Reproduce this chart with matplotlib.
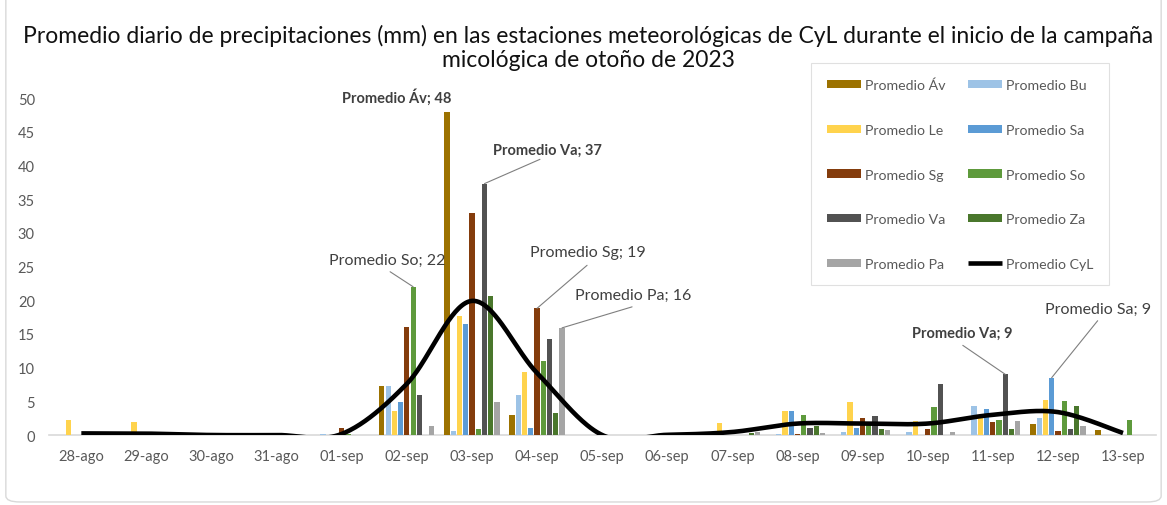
import numpy as np
import matplotlib
matplotlib.use('Agg')
import matplotlib.pyplot as plt
from matplotlib.patches import FancyBboxPatch

plt.rcParams['font.family'] = ['Lato', 'DejaVu Sans']

# categories (days)
days = ['28-ago', '29-ago', '30-ago', '31-ago', '01-sep', '02-sep', '03-sep', '04-sep',
        '05-sep', '06-sep', '07-sep', '08-sep', '09-sep', '10-sep', '11-sep', '12-sep', '13-sep']

# daily average precipitation (mm) per province
prom_av = [0, 0, 0, 0, 0, 7.2, 48.0, 2.9, 0, 0, 0, 0, 0, 0, 0, 1.7, 0.75]
prom_bu = [0, 0, 0, 0, 0.15, 7.2, 0.65, 5.9, 0, 0, 0, 0.2, 0.4, 0.5, 4.35, 2.5, 0]
prom_le = [2.2, 1.9, 0, 0, 0, 3.5, 17.6, 9.3, 0, 0, 1.8, 3.5, 4.85, 2.1, 2.5, 5.2, 0]
prom_sa = [0, 0, 0, 0, 0, 4.9, 16.4, 1.1, 0, 0, 0, 3.6, 1.0, 0, 3.9, 8.5, 0]
prom_sg = [0, 0, 0, 0, 1.1, 16.0, 32.9, 18.8, 0, 0.3, 0, 0.2, 2.5, 0.85, 1.9, 0.65, 0]
prom_so = [0, 0, 0, 0, 0.2, 22.0, 0.9, 11.0, 0, 0, 0, 2.9, 2.0, 4.1, 2.2, 5.0, 2.2]
prom_va = [0, 0, 0, 0, 0, 6.0, 37.3, 14.3, 0, 0, 0, 1.1, 2.8, 7.5, 9.0, 0.9, 0]
prom_za = [0, 0, 0, 0, 0, 0, 20.6, 3.3, 0, 0, 0.3, 1.3, 0.9, 0, 0.9, 4.35, 0]
prom_pa = [0, 0, 0, 0, 0, 1.3, 4.85, 15.9, 0, 0, 0.5, 0.3, 0.8, 0.4, 2.1, 1.4, 0]
# regional average (smoothed line)
prom_cyl = [0.24, 0.21, 0, 0, 0.16, 7.6, 19.9, 9.2, 0, 0.03, 0.45, 1.7, 1.7, 1.7, 3.0, 3.4, 0.3]

series = [
    ('Promedio Áv', prom_av, '#9C7200'),
    ('Promedio Bu', prom_bu, '#9DC3E6'),
    ('Promedio Le', prom_le, '#FFD34D'),
    ('Promedio Sa', prom_sa, '#5B9BD5'),
    ('Promedio Sg', prom_sg, '#843C0C'),
    ('Promedio So', prom_so, '#5E9A3C'),
    ('Promedio Va', prom_va, '#525252'),
    ('Promedio Za', prom_za, '#4A772C'),
    ('Promedio Pa', prom_pa, '#A5A5A5'),
]


def smooth_line(y, n=40):
    """Excel-like smoothed line (Catmull-Rom as cubic Bezier)"""
    y = np.asarray(y, dtype=float)
    x = np.arange(len(y), dtype=float)
    P = np.column_stack([x, y])
    P = np.vstack([P[0], P, P[-1]])
    t = np.linspace(0, 1, n)[:, None]
    pts = []
    for i in range(1, len(P) - 2):
        p0, p1, p2, p3 = P[i - 1], P[i], P[i + 1], P[i + 2]
        c1 = p1 + (p2 - p0) / 6
        c2 = p2 - (p3 - p1) / 6
        seg = ((1 - t) ** 3) * p1 + 3 * ((1 - t) ** 2) * t * c1 + 3 * (1 - t) * t ** 2 * c2 + t ** 3 * p2
        pts.append(seg)
    pts = np.vstack(pts)
    return pts[:, 0], pts[:, 1]


fig = plt.figure(figsize=(11.67, 5.06), dpi=100)
ax = fig.add_axes([0.0418, 0.1383, 0.9484, 0.666])

x = np.arange(len(days))
step = 0.096
width = 0.08
bars = {}
for i, (name, vals, col) in enumerate(series):
    off = (i - 4) * step
    bars[name] = ax.bar(x + off, vals, width, color=col, label=name, zorder=2)

sx, sy = smooth_line(prom_cyl)
line, = ax.plot(sx, sy, color='black', lw=3.3, solid_capstyle='butt', zorder=3,
                label='Promedio CyL')

ax.set_xlim(-0.5, len(days) - 0.5)
ax.set_ylim(0, 50)
ax.set_yticks(np.arange(0, 51, 5))
ax.set_xticks(x)
ax.set_xticklabels(days)
for s in ['top', 'right', 'left']:
    ax.spines[s].set_visible(False)
ax.spines['bottom'].set_color('#D9D9D9')
ax.spines['bottom'].set_linewidth(1.2)
ax.spines['bottom'].set_zorder(1)
ax.tick_params(axis='both', length=0, colors='#595959', labelsize=10.5)
ax.tick_params(axis='y', pad=10)
ax.tick_params(axis='x', pad=10)

fig.text(0.504, 0.905,
         'Promedio diario de precipitaciones (mm) en las estaciones meteorológicas de CyL durante el inicio de la campaña\nmicológica de otoño de 2023',
         ha='center', va='center', fontsize=16.5, color='#111111', linespacing=1.15)


def label_bar(name, idx, text, txt_off, lead_off=None, bold=False):
    rect = bars[name][idx]
    xy = (rect.get_x() + rect.get_width() / 2, rect.get_height())
    k = 0.72  # px -> points at 100 dpi
    if lead_off is not None:
        ax.annotate('', xy=xy, xytext=(lead_off[0] * k, lead_off[1] * k),
                    textcoords='offset points',
                    arrowprops=dict(arrowstyle='-', color='#7F7F7F', lw=0.8,
                                    shrinkA=0, shrinkB=0))
    ax.annotate(text, xy=xy, xytext=(txt_off[0] * k, txt_off[1] * k),
                textcoords='offset points', ha='center', va='center',
                fontsize=10.5 if bold else 11.5, color='#404040',
                fontweight='bold' if bold else 'normal', annotation_clip=False)


label_bar('Promedio Áv', 6, 'Promedio Áv; 48', (-50, 14.7), bold=True)
label_bar('Promedio Va', 6, 'Promedio Va; 37', (62.5, 34), (55.5, 24.3), bold=True)
label_bar('Promedio So', 5, 'Promedio So; 22', (-26, 27), (-23, 15))
label_bar('Promedio Sg', 7, 'Promedio Sg; 19', (51, 56), (50, 43))
label_bar('Promedio Pa', 7, 'Promedio Pa; 16', (71, 33), (70, 21))
label_bar('Promedio Va', 14, 'Promedio Va; 9', (-43.5, 42), (-42.5, 29), bold=True)
label_bar('Promedio Sa', 15, 'Promedio Sa; 9', (46, 69), (46, 57))

# legend: row-wise order like the original (two columns)
names = [s[0] for s in series]
handles = [bars[n] for n in names] + [line]
labels = names + ['Promedio CyL']
order = [0, 2, 4, 6, 8, 1, 3, 5, 7, 9]
leg = fig.legend([handles[i] for i in order], [labels[i] for i in order],
                 loc='upper left', bbox_to_anchor=(0.695, 0.873), ncol=2,
                 borderaxespad=0,
                 fontsize=10.2, frameon=True, fancybox=False, edgecolor='#D9D9D9',
                 labelspacing=2.3, handlelength=2.4, handleheight=0.5,
                 handletextpad=0.3, columnspacing=1.6, borderpad=1.1,
                 labelcolor='#595959')
leg.get_frame().set_linewidth(0.8)

# chart border
fig.patches.append(FancyBboxPatch((0.005, 0.006), 0.99, 1.05, transform=fig.transFigure,
                                  boxstyle='round,pad=0,rounding_size=0.012',
                                  fill=False, edgecolor='#D9D9D9', lw=1.0))

fig.savefig('out.png', dpi=100)
